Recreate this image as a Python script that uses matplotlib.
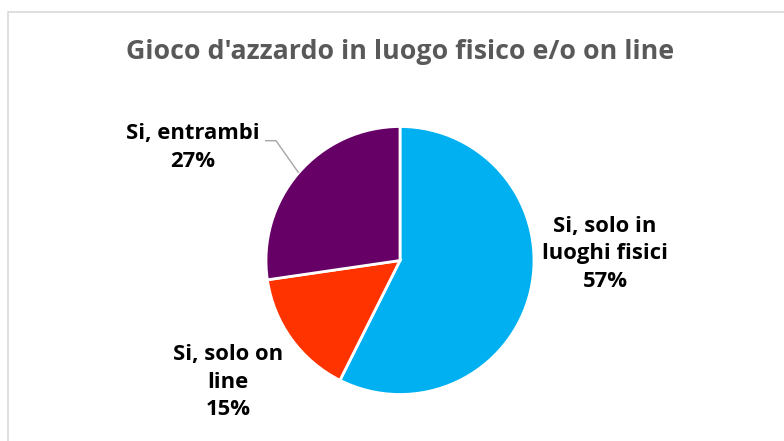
import matplotlib
matplotlib.use("Agg")
import matplotlib.pyplot as plt
from matplotlib.patches import Rectangle
import numpy as np

title = "Gioco d'azzardo in luogo fisico e/o on line"
categories = ["Si, solo in\nluoghi fisici", "Si, solo on\nline", "Si, entrambi"]
values = [57.4, 15.3, 27.3]
colors = ["#00B0F0", "#FF3300", "#660066"]

W, H = 784, 441
fig = plt.figure(figsize=(W / 100, H / 100), dpi=100)
ax = fig.add_axes([0, 0, 1, 1])

cx, cy, r = 400, H - 260.5, 134
wedges, _ = ax.pie(values, colors=colors, startangle=90, counterclock=False,
                   center=(cx, cy), radius=r,
                   wedgeprops=dict(edgecolor="white", linewidth=2.0))
ax.set_xlim(0, W)
ax.set_ylim(0, H)
ax.set_aspect("equal")
ax.axis("off")

font = ["Open Sans", "DejaVu Sans"]
total = sum(values)
pcts = [round(v / total * 100) for v in values]
# label positions (pixels, top-left origin) for each wedge
label_pos = [(605, 254), (228, 382), (193, 147.5)]
for cat, p, (lx, ly) in zip(categories, pcts, label_pos):
    ax.text(lx, H - ly, f"{cat}\n{p}%", ha="center", va="center",
            fontsize=15.8, fontweight="bold", color="black", family=font,
            linespacing=1.42)

# leader line for the purple wedge
w = wedges[2]
ang = np.deg2rad((w.theta1 + w.theta2) / 2)
ex, ey = cx + r * np.cos(ang), cy + r * np.sin(ang)
ax.plot([265, 276, ex], [H - 140.7, H - 140.7, ey], color="#A6A6A6", lw=1.0,
        solid_capstyle="butt")

fig.text(400 / W, 1 - 59 / H, title, ha="center", va="baseline", fontsize=19.3,
         fontweight="bold", color="#595959", family=font)

fig.patches.append(Rectangle((7.5 / W, -0.1), 1.2, (H - 11.5) / H + 0.1,
                             transform=fig.transFigure, fill=False,
                             edgecolor="#D9D9D9", linewidth=1.2))

fig.savefig("out.png", dpi=100)
